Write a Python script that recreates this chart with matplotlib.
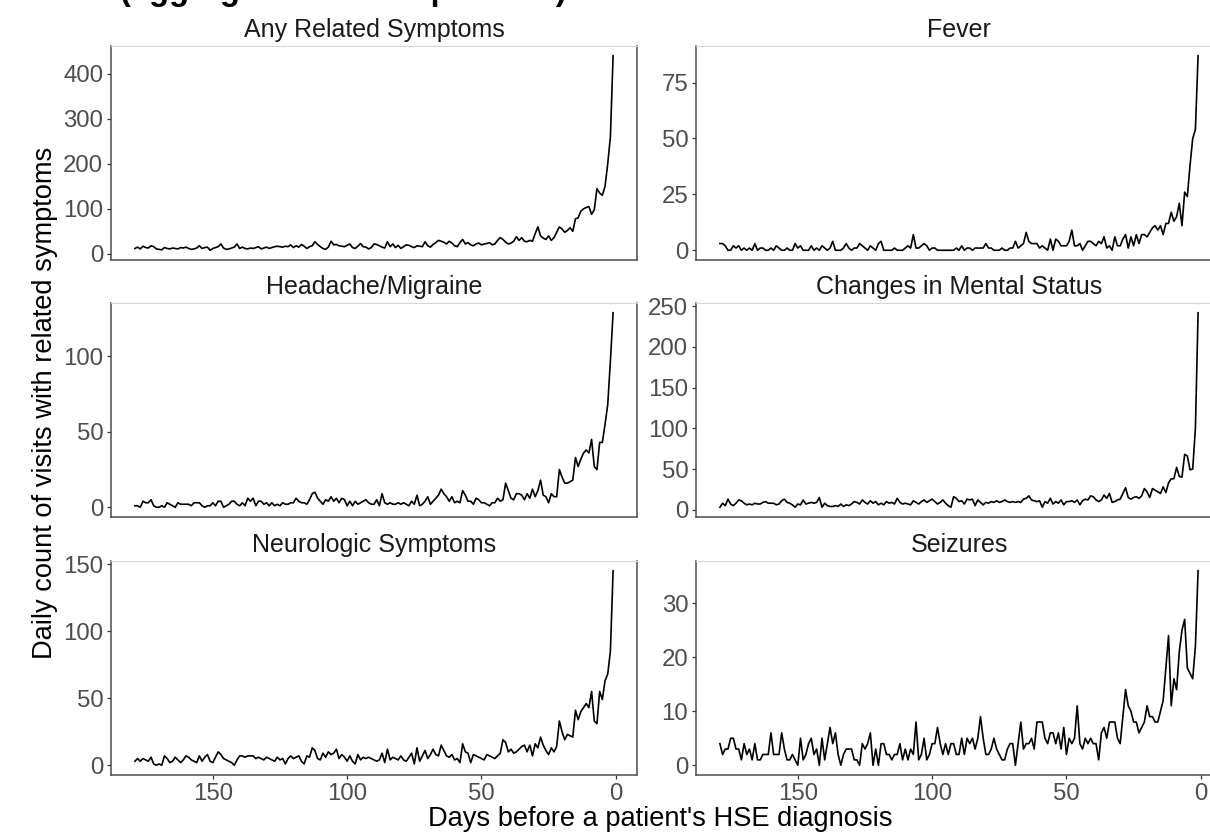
import numpy as np
import matplotlib
matplotlib.use("Agg")
import matplotlib.pyplot as plt
from matplotlib.ticker import MultipleLocator

plt.rcParams['font.family'] = ['Liberation Sans', 'DejaVu Sans']

# days before diagnosis, 179 .. 1
days = np.arange(179, 0, -1)

any_related = [
    12, 15, 11, 17, 14, 13, 18, 16, 11, 10, 9, 14, 12, 11, 13, 12, 11, 14, 13, 15,
    12, 10, 11, 13, 18, 12, 14, 15, 8, 12, 14, 16, 22, 13, 10, 11, 13, 15, 22, 12,
    15, 12, 11, 13, 12, 14, 16, 11, 13, 15, 12, 14, 16, 17, 16, 15, 17, 16, 20, 14,
    18, 15, 21, 17, 12, 16, 18, 27, 21, 16, 12, 10, 15, 28, 20, 21, 18, 17, 16, 19,
    22, 14, 12, 17, 23, 16, 15, 11, 14, 22, 21, 18, 15, 13, 27, 16, 22, 14, 19, 12,
    16, 20, 19, 16, 14, 18, 17, 16, 27, 18, 15, 21, 25, 30, 28, 26, 22, 28, 24, 18,
    16, 25, 32, 22, 25, 20, 18, 22, 24, 20, 22, 23, 25, 20, 22, 30, 36, 32, 26, 22,
    24, 28, 38, 30, 36, 28, 27, 30, 28, 45, 60, 40, 35, 32, 40, 30, 36, 48, 60, 55,
    48, 52, 58, 50, 78, 80, 95, 100, 103, 105, 88, 98, 145, 135, 130, 150, 200, 260, 440,
]

fever = [
    3, 3, 2, 0, 0, 2, 1, 2, 0, 1, 0, 1, 0, 3, 0, 1, 1, 0, 0, 1,
    0, 2, 1, 0, 0, 1, 0, 0, 3, 1, 2, 0, 0, 0, 2, 0, 1, 0, 2, 1,
    0, 1, 4, 0, 0, 0, 1, 3, 1, 0, 1, 1, 3, 2, 1, 0, 2, 1, 0, 3,
    4, 0, 0, 0, 0, 1, 0, 0, 0, 1, 2, 1, 7, 1, 1, 2, 3, 2, 0, 1,
    1, 0, 0, 0, 0, 0, 0, 0, 1, 0, 2, 0, 1, 1, 0, 1, 1, 1, 1, 3,
    1, 1, 0, 0, 0, 1, 0, 0, 1, 1, 4, 1, 2, 3, 8, 4, 3, 3, 3, 1,
    2, 1, 0, 5, 0, 5, 4, 2, 2, 2, 4, 9, 2, 2, 3, 0, 2, 4, 4, 3,
    2, 4, 3, 6, 1, 2, 0, 6, 2, 2, 5, 7, 1, 6, 2, 7, 3, 7, 7, 6,
    8, 10, 11, 9, 11, 7, 12, 12, 17, 13, 15, 21, 11, 26, 24, 38, 50, 54, 87,
]

headache = [
    1, 1, 0, 4, 3, 3, 5, 1, 0, 0, 1, 0, 3, 2, 1, 0, 3, 2, 2, 2,
    2, 1, 3, 3, 3, 1, 0, 1, 1, 3, 1, 4, 4, 0, 1, 2, 4, 4, 2, 1,
    3, 1, 6, 4, 6, 1, 4, 4, 2, 3, 1, 3, 1, 2, 1, 3, 2, 2, 3, 3,
    6, 4, 3, 3, 2, 5, 9, 10, 6, 4, 2, 5, 4, 7, 4, 6, 3, 6, 5, 1,
    4, 1, 4, 2, 3, 4, 5, 3, 2, 2, 5, 1, 9, 3, 2, 3, 2, 2, 3, 2,
    3, 2, 1, 4, 2, 8, 1, 2, 4, 7, 2, 4, 6, 8, 12, 9, 7, 4, 7, 3,
    4, 3, 11, 8, 4, 4, 2, 6, 5, 3, 3, 2, 1, 3, 3, 6, 4, 5, 16, 11,
    6, 5, 9, 9, 8, 5, 9, 6, 12, 7, 11, 18, 8, 7, 3, 9, 7, 7, 25, 20,
    16, 16, 17, 18, 33, 27, 32, 36, 38, 36, 45, 27, 25, 43, 43, 55, 68, 97, 129,
]

mental_status = [
    3, 8, 5, 13, 7, 5, 8, 12, 11, 8, 6, 7, 6, 8, 7, 7, 9, 10, 8, 8,
    8, 6, 7, 11, 13, 9, 8, 6, 3, 7, 6, 12, 7, 8, 9, 8, 9, 15, 3, 8,
    5, 4, 4, 5, 4, 7, 4, 6, 5, 7, 10, 9, 7, 12, 9, 7, 11, 8, 10, 6,
    8, 6, 10, 8, 9, 7, 14, 9, 7, 8, 7, 6, 11, 9, 7, 10, 12, 9, 11, 13,
    10, 7, 9, 12, 8, 5, 3, 16, 14, 10, 11, 7, 13, 12, 13, 5, 12, 9, 6, 9,
    8, 10, 9, 11, 9, 10, 12, 10, 9, 10, 9, 10, 9, 13, 14, 17, 12, 11, 10, 11,
    3, 10, 8, 14, 7, 10, 8, 12, 6, 10, 10, 11, 9, 12, 6, 11, 13, 12, 17, 16,
    12, 10, 12, 18, 14, 20, 9, 10, 12, 13, 20, 27, 15, 13, 15, 16, 14, 17, 26, 22,
    15, 26, 24, 22, 20, 28, 21, 33, 38, 38, 52, 41, 40, 68, 66, 49, 50, 100, 242,
]

neurologic = [
    3, 5, 3, 5, 4, 3, 6, 1, 0, 1, 0, 7, 5, 2, 3, 6, 4, 2, 4, 7,
    6, 4, 3, 2, 7, 3, 6, 8, 3, 2, 6, 10, 8, 5, 4, 3, 2, 0, 4, 7,
    7, 6, 7, 7, 7, 5, 6, 5, 4, 6, 5, 4, 3, 6, 4, 5, 1, 5, 7, 5,
    6, 7, 3, 1, 7, 6, 13, 11, 5, 4, 9, 6, 10, 8, 9, 12, 5, 8, 6, 3,
    7, 3, 1, 8, 4, 6, 5, 6, 5, 4, 3, 4, 9, 2, 12, 4, 6, 5, 4, 7,
    4, 3, 6, 9, 1, 13, 3, 7, 11, 5, 8, 12, 8, 7, 15, 11, 7, 6, 8, 4,
    5, 2, 16, 10, 9, 2, 8, 7, 6, 5, 4, 8, 7, 6, 5, 7, 9, 19, 17, 10,
    12, 9, 10, 12, 14, 15, 10, 15, 7, 16, 13, 21, 15, 11, 8, 13, 10, 14, 33, 25,
    19, 23, 22, 21, 41, 34, 40, 43, 46, 43, 55, 33, 31, 55, 49, 63, 68, 85, 145,
]

seizures = [
    4, 2, 3, 3, 5, 5, 3, 3, 1, 4, 2, 3, 1, 4, 1, 1, 2, 2, 2, 6,
    2, 2, 2, 6, 3, 1, 1, 2, 1, 0, 5, 1, 2, 4, 5, 2, 3, 0, 5, 1,
    4, 7, 4, 6, 2, 0, 2, 3, 3, 3, 1, 1, 0, 4, 3, 4, 6, 0, 3, 0,
    4, 4, 2, 2, 1, 2, 2, 4, 1, 3, 1, 3, 2, 8, 1, 2, 5, 1, 2, 4,
    4, 7, 4, 2, 4, 2, 4, 4, 2, 2, 5, 2, 5, 4, 5, 3, 5, 9, 5, 2,
    2, 3, 5, 3, 2, 1, 1, 3, 4, 4, 0, 4, 8, 3, 4, 4, 5, 3, 8, 8,
    8, 5, 4, 6, 6, 4, 6, 3, 7, 2, 5, 4, 5, 11, 4, 3, 5, 4, 5, 4,
    4, 1, 6, 7, 5, 8, 8, 8, 5, 4, 9, 14, 11, 10, 8, 8, 6, 7, 8, 11,
    9, 9, 8, 8, 10, 12, 18, 24, 11, 16, 14, 21, 25, 27, 18, 17, 16, 22, 36,
]

panel_titles = ["Any Related Symptoms", "Fever", "Headache/Migraine",
                "Changes in Mental Status", "Neurologic Symptoms", "Seizures"]
panel_values = [any_related, fever, headache, mental_status, neurologic, seizures]
y_steps = [100, 25, 50, 50, 50, 10]
x_ticks = [150, 100, 50, 0]

W, H = 1210, 833
fig = plt.figure(figsize=(W / 100, H / 100), dpi=100)

col_left = [111, 696]
panel_w = 526
row_top = [46, 303, 561]
panel_h = 214

axis_col = '#4D4D4D'

for i, (title, vals) in enumerate(zip(panel_titles, panel_values)):
    r, c = divmod(i, 2)
    ax = fig.add_axes([col_left[c] / W, 1 - (row_top[r] + panel_h) / H,
                       panel_w / W, panel_h / H])
    ax.plot(days, vals, color='black', lw=1.2)
    ax.margins(x=0.05, y=0.05)
    ax.invert_xaxis()
    ax.yaxis.set_major_locator(MultipleLocator(y_steps[i]))

    for side in ['left', 'bottom', 'right']:
        ax.spines[side].set_color(axis_col)
        ax.spines[side].set_linewidth(1.1)
    ax.spines['top'].set_color('#D6D6D6')
    ax.spines['top'].set_linewidth(0.8)

    ax.tick_params(axis='y', length=3, width=0.9, color='#333333',
                   labelsize=17.3, labelcolor=axis_col, pad=2.5)
    ax.set_xticks(x_ticks)
    if r == 2:
        ax.tick_params(axis='x', length=3, width=0.9, color='#333333',
                       labelsize=17.3, labelcolor=axis_col, pad=3)
    else:
        ax.tick_params(axis='x', length=0, labelbottom=False)

    ax.text(0.5, 1 + 16 / panel_h, title, transform=ax.transAxes,
            ha='center', va='center', fontsize=18, color='#1A1A1A')

fig.text(45 / W, 1 - 403 / H, 'Daily count of visits with related symptoms',
         rotation=90, ha='center', va='center', fontsize=19.6)
fig.text(660 / W, 1 - 819 / H, "Days before a patient's HSE diagnosis",
         ha='center', va='center', fontsize=19.6)
# title sits mostly above the visible area, as in the reference crop
fig.text(120 / W, 1.0, '(aggregated across patients)',
         ha='left', va='baseline', fontsize=23.5, fontweight='bold')

fig.savefig('out.png', dpi=100)
